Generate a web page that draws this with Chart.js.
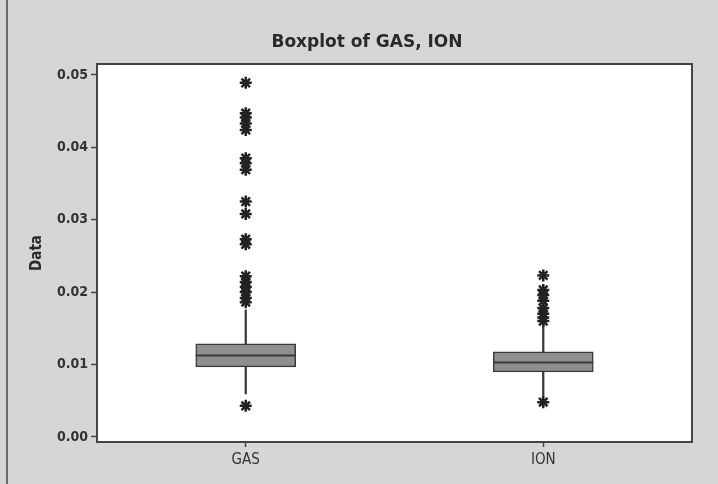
<!DOCTYPE html>
<html>
<head>
<meta charset="utf-8">
<script src="https://cdn.jsdelivr.net/npm/chart.js@4.4.1/dist/chart.umd.min.js"></script>
<style>
  html, body { margin: 0; padding: 0; background: #d6d6d6; }
  #wrap { width: 718px; height: 484px; position: relative; }
</style>
</head>
<body>
<div id="wrap"><canvas id="c" width="718" height="484"></canvas></div>
<script>
// Box summary per category
const categories = ['GAS', 'ION'];
const q1 = [0.00967, 0.00899];
const median = [0.01133, 0.01037];
const q3 = [0.01285, 0.01175];
const whiskerLow = [0.00594, 0.00553];
const whiskerHigh = [0.01754, 0.0155];

// Points outside the whiskers
const gasOutliers = [0.0489, 0.0447, 0.0441, 0.0433, 0.0424, 0.0385, 0.0378, 0.0369,
                     0.0325, 0.0308, 0.0273, 0.0266, 0.0222, 0.0214, 0.0207, 0.0200,
                     0.0192, 0.0186, 0.0043];
const ionOutliers = [0.0223, 0.0203, 0.0196, 0.0188, 0.0178, 0.0170, 0.0165, 0.0160, 0.0048];

const yTicks = [0.00, 0.01, 0.02, 0.03, 0.04, 0.05];

const INK = '#3a3a3a';
const FONT = '"DejaVu Sans Condensed", "DejaVu Sans", sans-serif';

// Page background, white plot area, frame and median lines
const boxDecor = {
  id: 'boxDecor',
  afterLayout(chart) {
    // centre the heading a little left of the plot's middle
    if (chart.titleBlock) {
      chart.titleBlock.left = 42;
      chart.titleBlock.right = 692;
    }
  },
  beforeDraw(chart) {
    const { ctx, chartArea: a } = chart;
    ctx.save();
    ctx.fillStyle = '#d6d6d6';
    ctx.fillRect(0, 0, chart.width, chart.height);
    ctx.strokeStyle = '#6a6a6a';
    ctx.lineWidth = 2;
    ctx.beginPath();
    ctx.moveTo(7, 0);
    ctx.lineTo(7, chart.height);
    ctx.stroke();
    ctx.fillStyle = '#ffffff';
    ctx.fillRect(a.left, a.top, a.right - a.left, a.bottom - a.top);
    ctx.restore();
  },
  afterDatasetsDraw(chart) {
    const { ctx, chartArea: a } = chart;
    const xs = chart.scales.x, ys = chart.scales.y;
    const boxMeta = chart.getDatasetMeta(1);
    ctx.save();
    ctx.strokeStyle = INK;
    ctx.lineWidth = 2;
    median.forEach((m, i) => {
      const cx = xs.getPixelForValue(i);
      const half = boxMeta.data[i].width / 2;
      const y = Math.round(ys.getPixelForValue(m)) + 0.5;
      ctx.beginPath();
      ctx.moveTo(cx - half, y);
      ctx.lineTo(cx + half, y);
      ctx.stroke();
    });
    ctx.strokeStyle = '#444';
    ctx.lineWidth = 2;
    ctx.strokeRect(a.left, a.top, a.right - a.left, a.bottom - a.top);
    ctx.restore();
  }
};

new Chart(document.getElementById('c'), {
  type: 'bar',
  data: {
    labels: categories,
    datasets: [
      {
        type: 'scatter',
        data: [
          ...gasOutliers.map(v => ({ x: 'GAS', y: v })),
          ...ionOutliers.map(v => ({ x: 'ION', y: v }))
        ],
        pointStyle: 'star',
        radius: 6,
        borderWidth: 2.5,
        borderColor: '#222',
        backgroundColor: '#222',
        order: 0
      },
      {
        data: categories.map((c, i) => [q1[i], q3[i]]),
        backgroundColor: '#8f8f8f',
        borderColor: INK,
        borderWidth: 1.5,
        borderSkipped: false,
        barThickness: 100,
        grouped: false,
        order: 1
      },
      {
        data: categories.map((c, i) => [whiskerLow[i], whiskerHigh[i]]),
        backgroundColor: INK,
        borderWidth: 0,
        barThickness: 1.6,
        grouped: false,
        order: 2
      }
    ]
  },
  options: {
    responsive: false,
    animation: false,
    layout: { padding: { left: 0, right: 26, top: 0, bottom: 0 } },
    plugins: {
      legend: { display: false },
      tooltip: { enabled: false },
      title: {
        display: true,
        text: 'Boxplot of GAS, ION',
        color: '#2a2a2a',
        font: { family: 'DejaVu Sans', size: 17, weight: 'bold' },
        padding: { top: 32, bottom: 11.6 }
      }
    },
    scales: {
      x: {
        type: 'category',
        offset: true,
        grid: { display: true, offset: false, drawOnChartArea: false, drawTicks: true, tickLength: 5, tickColor: '#444', tickWidth: 1.5 },
        border: { display: true, color: '#444', width: 2 },
        ticks: {
          color: '#333',
          font: { family: FONT, size: 15 },
          padding: 4
        },
        afterFit(s) { s.height = 42; }
      },
      y: {
        type: 'linear',
        min: -0.0007,
        max: 0.0515,
        afterBuildTicks(s) { s.ticks = yTicks.map(v => ({ value: v })); },
        grid: { display: true, drawOnChartArea: false, drawTicks: true, tickLength: 6, tickColor: '#444', tickWidth: 1.5 },
        border: { display: true, color: '#444', width: 2 },
        ticks: {
          color: '#333',
          font: { family: FONT, size: 14, weight: 'bold' },
          padding: 3,
          callback: v => Number(v).toFixed(2)
        },
        title: {
          display: true,
          text: 'Data',
          color: '#2a2a2a',
          font: { family: FONT, size: 15, weight: 'bold' },
          padding: { top: 28, bottom: 0 }
        },
        afterFit(s) { s.width = 97; }
      }
    }
  },
  plugins: [boxDecor]
});
</script>
</body>
</html>
